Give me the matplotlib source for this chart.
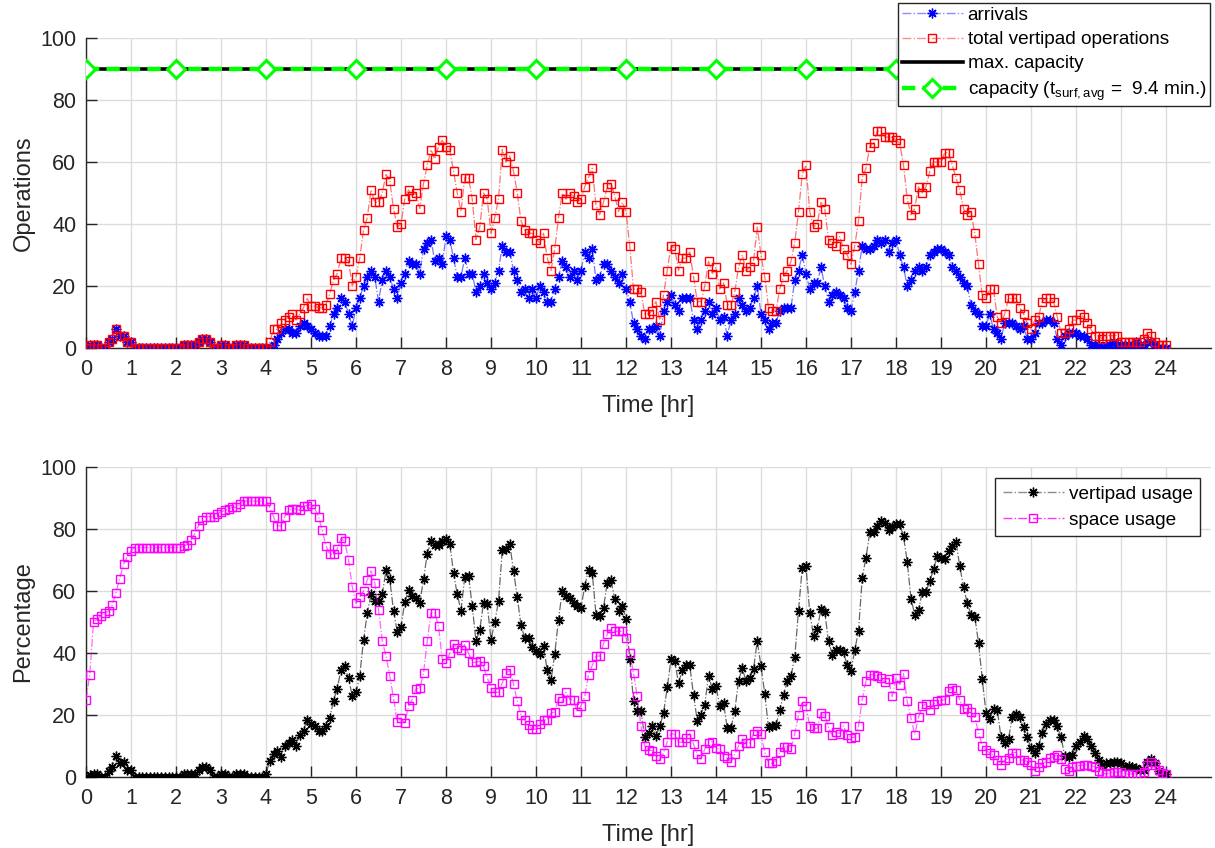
import numpy as np
import matplotlib
matplotlib.use("Agg")
import matplotlib.pyplot as plt
from matplotlib.lines import Line2D

plt.rcParams['font.family'] = ['Liberation Sans', 'DejaVu Sans']
plt.rcParams['mathtext.fontset'] = 'custom'
plt.rcParams['mathtext.rm'] = 'Liberation Sans'
plt.rcParams['mathtext.it'] = 'Liberation Sans'

# ---------------- data (5-minute samples, 0..24 h) ----------------
time_hr = np.arange(0, 24 * 60 + 1, 5) / 60.0

arrivals = [
    0, 1, 1, 1, 0, 0, 2, 3, 6, 4, 4, 2,
    2, 0, 0, 0, 0, 0, 0, 0, 0, 0, 0, 0,
    0, 0, 1, 1, 1, 1, 2, 3, 3, 2, 0, 0,
    1, 1, 0, 0, 1, 1, 1, 0, 0, 0, 0, 0,
    0, 0, 1, 3, 5, 6, 6, 5, 5, 7, 8, 7,
    6, 5, 4, 4, 4, 7, 11, 13, 16, 15, 11, 7,
    13, 16, 20, 23, 25, 23, 15, 22, 25, 23, 19, 16,
    21, 24, 28, 27, 27, 24, 32, 34, 35, 28, 29, 27,
    36, 35, 29, 23, 23, 29, 24, 24, 18, 20, 24, 21,
    19, 21, 25, 33, 31, 31, 25, 22, 18, 19, 16, 19,
    16, 20, 18, 15, 15, 19, 23, 28, 26, 23, 25, 22,
    25, 31, 29, 32, 22, 23, 27, 27, 25, 23, 21, 24,
    19, 15, 8, 6, 4, 3, 6, 6, 7, 4, 12, 15,
    17, 14, 12, 16, 16, 16, 9, 6, 9, 12, 15, 11,
    13, 9, 10, 4, 9, 11, 16, 14, 12, 13, 16, 20,
    11, 9, 6, 8, 8, 12, 13, 13, 13, 22, 25, 30,
    24, 19, 21, 21, 26, 20, 15, 17, 18, 17, 16, 13,
    12, 18, 25, 33, 32, 32, 33, 35, 34, 35, 31, 34,
    35, 30, 26, 20, 22, 25, 26, 25, 26, 30, 31, 32,
    32, 31, 30, 26, 25, 23, 21, 20, 14, 12, 11, 7,
    7, 11, 6, 5, 3, 8, 8, 8, 7, 6, 7, 3,
    3, 5, 8, 8, 9, 9, 8, 3, 1, 4, 5, 5,
    5, 4, 4, 3, 1, 1, 1, 0, 1, 1, 2, 1,
    1, 1, 1, 1, 2, 1, 1, 2, 2, 1, 0, 0,
    0]

total_ops = [
    0, 1, 1, 1, 0, 0, 2, 3, 6, 4, 4, 2,
    2, 0, 0, 0, 0, 0, 0, 0, 0, 0, 0, 0,
    0, 0, 1, 1, 1, 1, 2, 3, 3, 2, 0, 0,
    1, 1, 0, 0, 1, 1, 1, 0, 0, 0, 0, 0,
    0, 2, 6, 6, 8, 9, 10, 11, 9, 11, 13, 16,
    13.5, 13.5, 13, 13, 14, 17.5, 22, 24, 29, 29, 28, 20,
    23, 29, 38, 42, 51, 47, 47, 50, 56, 54, 45, 39,
    40, 48, 51, 49, 50, 45, 53, 59, 64, 61, 65, 67,
    65, 64, 57, 50, 44, 55, 55, 48, 35, 39, 50, 48,
    37, 42, 48, 64, 60, 62, 57, 50, 41, 38, 37, 37,
    35, 34, 37, 29, 25, 32, 42, 50, 48, 50, 49, 47,
    48, 52, 55, 58, 46, 43, 47, 52, 53, 49, 44, 47,
    44, 33, 19, 19, 18, 11, 11, 12, 15, 9, 17, 25,
    33, 32, 25, 29, 29, 31, 23, 15, 15, 20, 28, 24,
    26, 19, 21, 14, 14, 18, 26, 30, 25, 26, 28, 39,
    30, 23, 13, 12, 12, 19, 23, 25, 28, 34, 44, 56,
    59, 44, 39, 40, 47, 45, 35, 34, 33, 36, 32, 30,
    27, 33, 41, 55, 58, 65, 66, 70, 70, 68, 68, 68,
    67, 66, 59, 48, 43, 45, 52, 50, 52, 57, 60, 60,
    60, 63, 63, 59, 55, 51, 45, 43, 44, 37, 27, 17,
    16, 19, 19, 10, 8, 11, 16, 16, 16, 13, 11, 8,
    6, 9, 10, 15, 16, 16, 15, 10, 5, 5, 6, 9,
    9, 11, 10, 8, 6, 4, 4, 3, 4, 4, 4, 4,
    2, 2, 2, 2, 2, 2, 3, 5, 4, 2, 1, 1,
    1]

vertipad_usage = [
    0, 0.6, 1, 1, 0, 0, 2, 3.3, 6.7, 4.4, 5, 2.2,
    2.2, 0, 0, 0, 0, 0, 0, 0, 0, 0, 0, 0,
    0, 0, 1, 1, 1, 1, 2.2, 3.3, 3.3, 2.2, 0, 0,
    1, 1, 0, 0, 1, 1, 1, 0, 0, 0, 0, 0,
    1, 5.3, 7.4, 8.5, 6.6, 10, 11, 12, 10, 13.5, 15, 18.5,
    17, 16.3, 15, 15, 16.3, 19, 24.6, 28.5, 34.6, 35.7, 31.9, 26.2,
    27.3, 32.7, 44.1, 52.8, 58.9, 56.7, 56.7, 58.9, 66.7, 63.8, 53.7, 46.8,
    48.3, 56.5, 60.2, 58.4, 57.8, 56, 63.8, 72, 76, 74.8, 74.8, 76,
    76.7, 75.3, 65.9, 58.9, 53.7, 64.5, 65, 55.1, 43.8, 47.4, 56.2, 55.7,
    44.3, 49.9, 56.7, 73.2, 73.7, 75.1, 66.5, 58.1, 48.9, 44.9, 44.9, 41.9,
    40.6, 39.7, 42.2, 34.4, 31.2, 39.7, 50.8, 60, 58.4, 57.8, 56.2, 55.3,
    54.6, 61.6, 66.7, 65.9, 52.4, 52, 54.6, 62.7, 63.4, 57.5, 53.5, 55.3,
    51, 38, 24.6, 21.3, 21.3, 12.8, 14.3, 16.5, 13.3, 16.3, 20.6, 28.9,
    38, 37.3, 30.3, 34.4, 36, 36, 26.5, 18.2, 20, 23.3, 32.7, 28.4,
    29.2, 22.9, 24, 15.7, 15.7, 21.3, 30.9, 35.2, 30.9, 31.9, 34.8, 43.8,
    35.7, 26.9, 16, 16.3, 16.8, 21.5, 26.5, 30.9, 32.5, 38.7, 53.7, 67.5,
    68, 53, 45.6, 47.8, 54.3, 53.2, 43.8, 39.5, 40.9, 40.9, 40.2, 36,
    34.3, 40.9, 47.2, 64.3, 70.8, 78.9, 79, 81, 82.6, 82, 79.7, 80.8,
    81.6, 81.6, 77.6, 69.4, 57.5, 52.4, 53.8, 59.7, 59.7, 63.2, 67, 71.3,
    70.8, 70.4, 72.9, 74.5, 75.8, 68, 61.4, 56, 52.4, 51.7, 43.3, 31.6,
    20.6, 18.7, 21.9, 21.7, 12.8, 10.9, 12.2, 19.5, 20.4, 19.5, 16, 12.8,
    9.3, 7.7, 10.1, 14.1, 17.2, 18.4, 18.4, 16.3, 12.8, 6.8, 6.4, 7.1,
    10, 11.4, 13.1, 12.2, 10.1, 7.7, 5.5, 3.9, 4.4, 4.4, 5, 5,
    4.4, 3.3, 3.6, 3.3, 2.8, 2.3, 2.3, 5, 5.7, 4.4, 2, 1,
    1]

space_usage = [
    25, 33, 50, 51, 52, 53, 53.5, 55.5, 59.5, 64, 68.6, 71,
    73, 74, 74, 74, 74, 74, 74, 74, 74, 74, 74, 74,
    74, 74, 74.5, 75, 76.5, 78.4, 81, 83, 84, 84, 84, 85,
    85.5, 86, 86.5, 87, 87, 88, 89, 89, 89, 89, 89, 89,
    89, 87, 84, 81, 81, 84, 86, 86.5, 86.5, 86, 87.5, 87.5,
    88, 86.6, 84, 79.7, 74.5, 71.8, 71.8, 73.5, 77, 76, 70, 61.4,
    56, 58, 60, 63.5, 66.5, 62.7, 54, 44, 39, 32.7, 25.5, 17.6,
    19, 17.4, 22.8, 25, 28.5, 28.6, 33.5, 43.8, 53, 53, 48.7, 38,
    36.8, 40, 43, 41.6, 41, 42.7, 40, 37, 37, 37.3, 35.7, 32,
    28.7, 27.3, 27.3, 30.3, 33.5, 34.4, 30, 24.4, 20, 18.4, 16.8, 15.4,
    15.4, 17.2, 18.4, 18.4, 20.6, 21, 25.5, 24.4, 27.3, 25, 25, 21,
    23, 26, 33, 36, 39, 39, 43, 46, 48, 47, 47, 47,
    45, 40, 33.5, 26, 16.5, 10, 8.7, 8.5, 6.8, 5.7, 7.7, 11.4,
    14, 13.8, 11.2, 11.2, 12.5, 14, 10.6, 7.4, 5.8, 9, 11, 11.4,
    9.3, 9.1, 6.9, 6, 5, 7.3, 10, 12.2, 11, 11, 14, 15,
    13.8, 8, 4.6, 4.4, 5.3, 8, 9.8, 9.6, 9, 14, 20, 24.4,
    22.8, 16.5, 15.7, 15.7, 20.8, 19.7, 16, 13.4, 14.5, 14, 16.5, 13.6,
    12.7, 12.8, 16.3, 25, 31, 33, 33, 32.5, 32, 30.5, 31.6, 26,
    32, 29.8, 33.3, 24.4, 19, 13.6, 19.3, 22.8, 23.6, 21.5, 23.6, 24.4,
    24.7, 24.9, 27.9, 28.7, 28.2, 24.9, 21.9, 22.2, 20.9, 19.3, 14.3, 10,
    8.7, 7.7, 7.1, 5.5, 3.9, 5.5, 6, 7.9, 7.9, 5.5, 5.5, 5,
    3.9, 2, 3.3, 4.4, 5, 6, 6.6, 7.1, 5.7, 2.5, 2, 3.3,
    3.7, 3.7, 3.9, 3.9, 3.7, 3.3, 2, 1.2, 1, 1.2, 1.7, 1.5,
    1.7, 1, 1, 1, 1, 1, 1.7, 3.9, 5, 3.9, 2.3, 1.2,
    1]

capacity_time = [0, 2, 4, 6, 8, 10, 12, 14, 16, 18, 20, 22, 24]
max_capacity = 90
surf_capacity = 90

x_ticks = list(range(0, 25))
y_ticks = [0, 20, 40, 60, 80, 100]

# ---------------- figure ----------------
W, H = 1215, 848
fig = plt.figure(figsize=(W / 100, H / 100), dpi=100)
ax1 = fig.add_axes([86 / W, 1 - 348 / H, 1125 / W, 310 / H])
ax2 = fig.add_axes([86 / W, 1 - 777 / H, 1125 / W, 310 / H])

txt = '#262626'
ast = (8, 2, 0)

def style(ax, ylabel):
    ax.set_xlim(0, 25)
    ax.set_ylim(0, 100)
    ax.set_xticks(x_ticks)
    ax.set_yticks(y_ticks)
    ax.grid(True, color='#dcdcdc', linewidth=1.0)
    ax.set_axisbelow(True)
    for s in ['top', 'right']:
        ax.spines[s].set_visible(False)
    for s in ['left', 'bottom']:
        ax.spines[s].set_color(txt)
        ax.spines[s].set_linewidth(1.0)
    ax.tick_params(direction='in', length=8, width=1.0, colors=txt,
                   labelsize=15.5)
    ax.tick_params(axis='x', pad=8)
    ax.tick_params(axis='y', pad=7)
    ax.set_xlabel('Time [hr]', fontsize=17, color=txt, labelpad=11)
    ax.set_ylabel(ylabel, fontsize=17, color=txt, labelpad=4)

# top
ax1.plot(capacity_time, [max_capacity] * len(capacity_time), color='black',
         linewidth=2.6, zorder=3)
ax1.plot(capacity_time, [surf_capacity] * len(capacity_time), color='#00ff00',
         linewidth=3.2, linestyle=(0, (3, 1.6)), marker='D', markersize=9,
         markerfacecolor='white', markeredgecolor='#00ff00', markeredgewidth=2.2,
         zorder=4)
ax1.plot(time_hr, arrivals, color=(0, 0, 1, 0.55), linestyle='-.', linewidth=0.9,
         marker=ast, markersize=7, markeredgecolor='blue', markeredgewidth=1.0,
         zorder=5)
ax1.plot(time_hr, total_ops, color=(1, 0, 0, 0.55), linestyle='-.', linewidth=0.9,
         marker='s', markersize=5.5, markerfacecolor='none', markeredgecolor='red',
         markeredgewidth=1.0, zorder=6)
style(ax1, 'Operations')

h1 = [
    Line2D([], [], color=(0, 0, 1, 0.45), linestyle='-.', linewidth=1.0,
           marker=ast, markersize=7, markeredgecolor='blue'),
    Line2D([], [], color=(1, 0, 0, 0.45), linestyle='-.', linewidth=1.0,
           marker='s', markersize=5.5, markerfacecolor='none', markeredgecolor='red'),
    Line2D([], [], color='black', linewidth=2.6),
    Line2D([], [], color='#00ff00', linewidth=3.2, linestyle=(0, (3, 1.6)),
           marker='D', markersize=9, markerfacecolor='white',
           markeredgecolor='#00ff00', markeredgewidth=2.2),
]
l1 = ['arrivals', 'total vertipad operations', 'max. capacity',
      r'capacity (t$_{\mathregular{surf,avg}}$ =  9.4 min.)']
leg1 = ax1.legend(h1, l1, loc='upper right',
                  bbox_to_anchor=(1210 / W, 1 - 3 / H),
                  bbox_transform=fig.transFigure, fontsize=13.7,
                  frameon=True, fancybox=False, framealpha=1,
                  edgecolor=txt, handlelength=3.2, handletextpad=0.25,
                  borderpad=0.2, labelspacing=0.36, borderaxespad=0)
leg1.get_frame().set_linewidth(1.0)
leg1.set_zorder(10)

# bottom
ax2.plot(time_hr, vertipad_usage, color=(0, 0, 0, 0.6), linestyle='-.',
         linewidth=0.9, marker=ast, markersize=7, markeredgecolor='black',
         markeredgewidth=1.0, zorder=5)
ax2.plot(time_hr, space_usage, color=(1, 0, 1, 0.6), linestyle='-.',
         linewidth=0.9, marker='s', markersize=5.5, markerfacecolor='none',
         markeredgecolor='magenta', markeredgewidth=1.0, zorder=6)
style(ax2, 'Percentage')

h2 = [
    Line2D([], [], color=(0, 0, 0, 0.45), linestyle='-.', linewidth=1.0,
           marker=ast, markersize=7, markeredgecolor='black'),
    Line2D([], [], color=(1, 0, 1, 0.8), linestyle='-.', linewidth=1.0,
           marker='s', markersize=5.5, markerfacecolor='none',
           markeredgecolor='magenta'),
]
leg2 = ax2.legend(h2, ['vertipad usage', 'space usage'], loc='upper right',
                  bbox_to_anchor=(1200 / W, 1 - 478 / H),
                  bbox_transform=fig.transFigure, fontsize=13.7,
                  frameon=True, fancybox=False, framealpha=1,
                  edgecolor=txt, handlelength=3.2, handletextpad=0.25,
                  borderpad=0.4, labelspacing=0.45, borderaxespad=0)
leg2.get_frame().set_linewidth(1.0)

fig.savefig('out.png', dpi=100)
